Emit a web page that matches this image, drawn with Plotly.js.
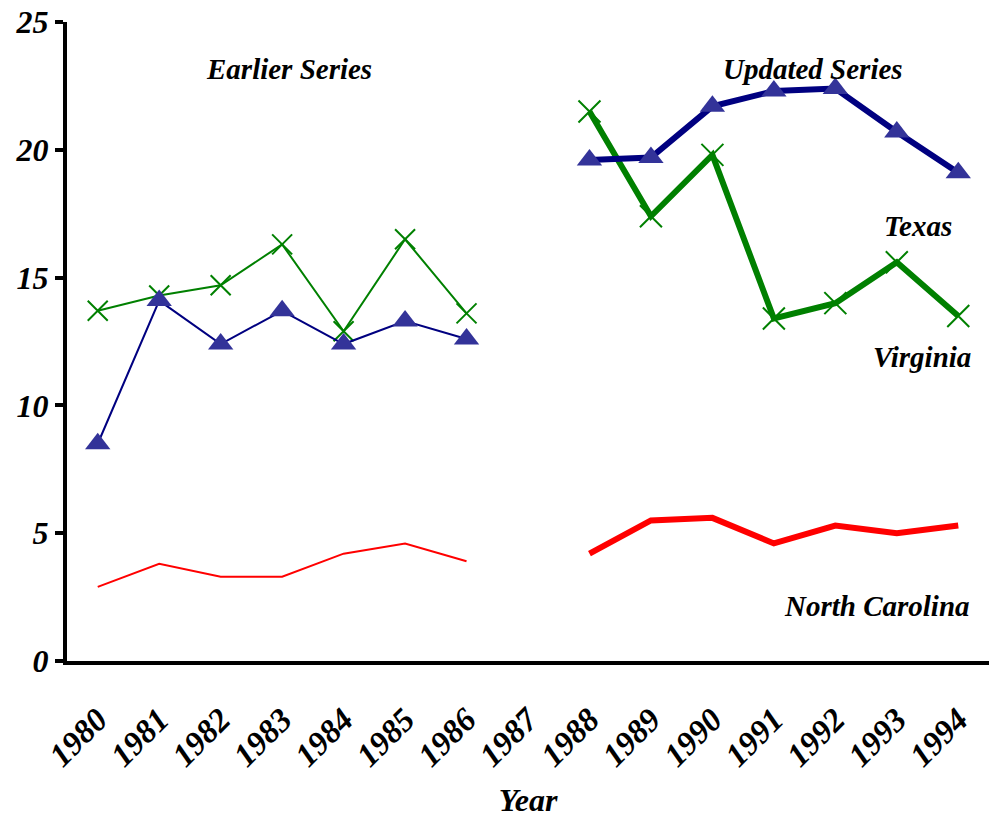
<!DOCTYPE html>
<html>
<head>
<meta charset="utf-8">
<script src="https://cdn.plot.ly/plotly-3.0.1.min.js"></script>
<style>html,body{margin:0;padding:0;background:#fff;}#chart{width:989px;height:818px;}</style>
</head>
<body>
<div id="chart"></div>
<script>
var years = ['1980','1981','1982','1983','1984','1985','1986','1987','1988','1989','1990','1991','1992','1993','1994'];
var texasEarlier    = [8.5, 14.1, 12.4, 13.7, 12.4, 13.3, 12.6, null, null, null, null, null, null, null, null];
var virginiaEarlier = [13.7, 14.3, 14.7, 16.3, 12.9, 16.5, 13.6, null, null, null, null, null, null, null, null];
var ncEarlier       = [2.9, 3.8, 3.3, 3.3, 4.2, 4.6, 3.9, null, null, null, null, null, null, null, null];
var texasUpdated    = [null, null, null, null, null, null, null, null, 19.6, 19.7, 21.7, 22.3, 22.4, 20.7, 19.1];
var virginiaUpdated = [null, null, null, null, null, null, null, null, 21.5, 17.4, 19.8, 13.4, 14.0, 15.6, 13.5];
var ncUpdated       = [null, null, null, null, null, null, null, null, 4.2, 5.5, 5.6, 4.6, 5.3, 5.0, 5.3];
var yTicks = [0, 5, 10, 15, 20, 25];

var F = {family: 'Liberation Serif, Times New Roman, serif', weight: 'bold', style: 'italic', color: '#000'};
function f(size){ return Object.assign({}, F, {size: size}); }

var traces = [
  {x: years, y: ncEarlier, mode: 'lines', line: {color: '#FF0000', width: 2}},
  {x: years, y: virginiaEarlier, mode: 'lines+markers', line: {color: '#008000', width: 2},
   marker: {symbol: 'x-thin', size: 20, line: {color: '#008000', width: 2}}},
  {x: years, y: texasEarlier, mode: 'lines+markers', line: {color: '#000080', width: 2},
   marker: {symbol: 'triangle-up', size: 22, color: '#333399'}},
  {x: years, y: ncUpdated, mode: 'lines', line: {color: '#FF0000', width: 6}},
  {x: years, y: virginiaUpdated, mode: 'lines+markers', line: {color: '#008000', width: 6},
   marker: {symbol: 'x-thin', size: 22, line: {color: '#008000', width: 2}}},
  {x: years, y: texasUpdated, mode: 'lines+markers', line: {color: '#000080', width: 6},
   marker: {symbol: 'triangle-up', size: 22, color: '#333399'}}
];

function ann(text, x, y){
  return {text: text, xref: 'paper', yref: 'paper', x: x, y: y, xanchor: 'center', yanchor: 'middle', showarrow: false, font: f(29)};
}

var layout = {
  width: 989, height: 818,
  margin: {l: 67, r: 0, t: 22, b: 157},
  paper_bgcolor: '#fff', plot_bgcolor: '#fff',
  showlegend: false,
  font: f(28),
  xaxis: {
    type: 'category', categoryorder: 'array', categoryarray: years,
    range: [-0.5, 14.5],
    showgrid: false, zeroline: false,
    showline: true, linecolor: '#000', linewidth: 4,
    ticks: '', tickangle: -45, tickfont: f(33), ticklabelstandoff: 22,
    title: {text: 'Year', font: f(32), standoff: 20}
  },
  yaxis: {
    range: [0, 25], tickvals: yTicks,
    showgrid: false, zeroline: false,
    showline: true, linecolor: '#000', linewidth: 4,
    ticks: 'outside', ticklen: 8, tickwidth: 4, tickcolor: '#000',
    tickfont: f(32)
  },
  annotations: [
    ann('Earlier Series', 0.241, 0.926),
    ann('Updated Series', 0.809, 0.926),
    ann('Texas', 0.923, 0.681),
    ann('Virginia', 0.927, 0.476),
    ann('North Carolina', 0.879, 0.086)
  ]
};

Plotly.newPlot('chart', traces, layout, {displayModeBar: false, staticPlot: true});
</script>
</body>
</html>
